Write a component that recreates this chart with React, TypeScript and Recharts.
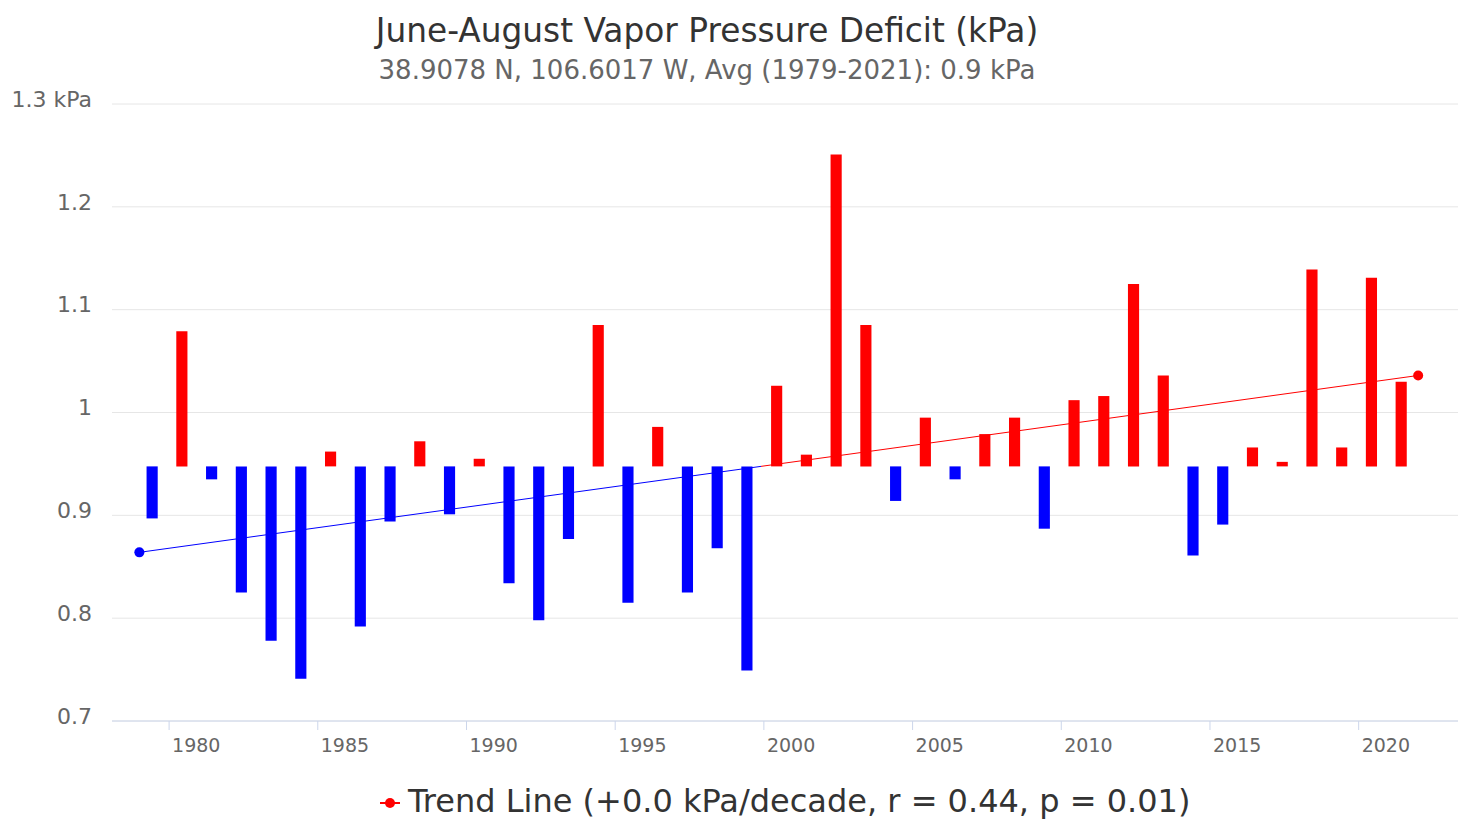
import React from 'react';
import {
  ComposedChart,
  Bar,
  Line,
  XAxis,
  YAxis,
  CartesianGrid,
  Cell
} from 'recharts';

// June-August VPD per year (kPa)
const years = [
  1979, 1980, 1981, 1982, 1983, 1984, 1985, 1986, 1987, 1988,
  1989, 1990, 1991, 1992, 1993, 1994, 1995, 1996, 1997, 1998,
  1999, 2000, 2001, 2002, 2003, 2004, 2005, 2006, 2007, 2008,
  2009, 2010, 2011, 2012, 2013, 2014, 2015, 2016, 2017, 2018,
  2019, 2020, 2021
];
const vpdValues = [
  0.897, 1.079, 0.935, 0.825, 0.778, 0.741, 0.962, 0.792, 0.894, 0.972,
  0.901, 0.955, 0.834, 0.798, 0.877, 1.085, 0.815, 0.986, 0.825, 0.868,
  0.749, 1.026, 0.959, 1.251, 1.085, 0.914, 0.995, 0.935, 0.979, 0.995,
  0.887, 1.012, 1.016, 1.125, 1.036, 0.861, 0.891, 0.966, 0.952, 1.139,
  0.966, 1.131, 1.030
];
const avgVpd = 0.9476;

const trendYears = [1979, 2022];
const trendValues = [0.864, 1.036];

const yTicks = [0.7, 0.8, 0.9, 1.0, 1.1, 1.2, 1.3];
const xTicks = [1980, 1985, 1990, 1995, 2000, 2005, 2010, 2015, 2020];

// season starts in June -> points sit at June 1 of each year on the time axis
const seasonStartMonth = 5;

const RED = '#ff0000';
const BLUE = '#0000ff';
const FONT = '"DejaVu Sans", sans-serif';

const barData = years.map((y, i) => ({
  t: y + seasonStartMonth / 12,
  value: vpdValues[i],
  range: [Math.min(avgVpd, vpdValues[i]), Math.max(avgVpd, vpdValues[i])]
}));

const trendData = trendYears.map((y, i) => ({ t: y, trend: trendValues[i] }));

// where the trend crosses the average -> blue/red switch on the line
const crossFrac =
  (avgVpd - trendValues[0]) / (trendValues[1] - trendValues[0]);

const YTick = (props: any) => {
  const { x, y, payload, index } = props;
  const label = index === yTicks.length - 1 ? `${payload.value} kPa` : `${payload.value}`;
  return (
    <text x={x} y={y - 5} dy="0.355em" textAnchor="end" fill="#666666" fontSize={22} fontFamily={FONT}>
      {label}
    </text>
  );
};

const XTick = (props: any) => {
  const { x, y, payload } = props;
  return (
    <text x={x + 3} y={y + 13} dy="0.355em" textAnchor="start" fill="#666666" fontSize={19} fontFamily={FONT}>
      {payload.value}
    </text>
  );
};

const TrendDot = (props: any) => {
  const { cx, cy, payload, index } = props;
  if (cx == null || cy == null) return <g key={`d-${index}`} />;
  return (
    <circle key={`d-${index}`} cx={cx} cy={cy} r={5} fill={payload.trend >= avgVpd ? RED : BLUE} />
  );
};

export default function App() {
  return (
    <div style={{ position: 'relative', width: 1466, height: 827, background: '#ffffff' }}>
      <style>{'body{margin:0;overflow:hidden;}'}</style>
      <ComposedChart
        width={1466}
        height={827}
        data={barData}
        margin={{ top: 104, right: 8, left: 0, bottom: 76 }}
      >
        <defs>
          <linearGradient id="trendStroke" x1="0" y1="0" x2="1" y2="0">
            <stop offset={crossFrac} stopColor={BLUE} />
            <stop offset={crossFrac} stopColor={RED} />
          </linearGradient>
        </defs>
        <CartesianGrid horizontal vertical={false} stroke="#e6e6e6" />
        <XAxis
          dataKey="t"
          type="number"
          domain={[1978.08, 2023.34]}
          ticks={xTicks}
          allowDataOverflow
          height={30}
          axisLine={{ stroke: '#ccd6eb' }}
          tickLine={{ stroke: '#ccd6eb' }}
          tickSize={9}
          tickMargin={2}
          tick={<XTick />}
        />
        <YAxis
          type="number"
          domain={[0.7, 1.3]}
          ticks={yTicks}
          allowDataOverflow
          width={112}
          axisLine={false}
          tickLine={false}
          tickSize={0}
          tickMargin={20}
          tick={<YTick />}
        />
        <Bar dataKey="range" barSize={13} isAnimationActive={false}>
          {barData.map((d, i) => (
            <Cell key={`c-${i}`} fill={d.value >= avgVpd ? RED : BLUE} />
          ))}
        </Bar>
        <Line
          data={trendData}
          dataKey="trend"
          type="linear"
          stroke="url(#trendStroke)"
          strokeWidth={1}
          dot={<TrendDot />}
          activeDot={false}
          isAnimationActive={false}
        />
      </ComposedChart>
      <svg
        width={1466}
        height={827}
        style={{ position: 'absolute', left: 0, top: 0, pointerEvents: 'none' }}
      >
        <text x={707} y={42} textAnchor="middle" fill="#333333" fontSize={32.8} fontFamily={FONT}>
          June-August Vapor Pressure Deficit (kPa)
        </text>
        <text x={707} y={79} textAnchor="middle" fill="#666666" fontSize={26} fontFamily={FONT}>
          38.9078 N, 106.6017 W, Avg (1979-2021): 0.9 kPa
        </text>
        <line x1={380} y1={803} x2={400} y2={803} stroke={RED} strokeWidth={2} />
        <circle cx={390} cy={803} r={5} fill={RED} />
        <text x={408} y={812} textAnchor="start" fill="#333333" fontSize={32} fontFamily={FONT}>
          Trend Line (+0.0 kPa/decade, r = 0.44, p = 0.01)
        </text>
      </svg>
    </div>
  );
}
